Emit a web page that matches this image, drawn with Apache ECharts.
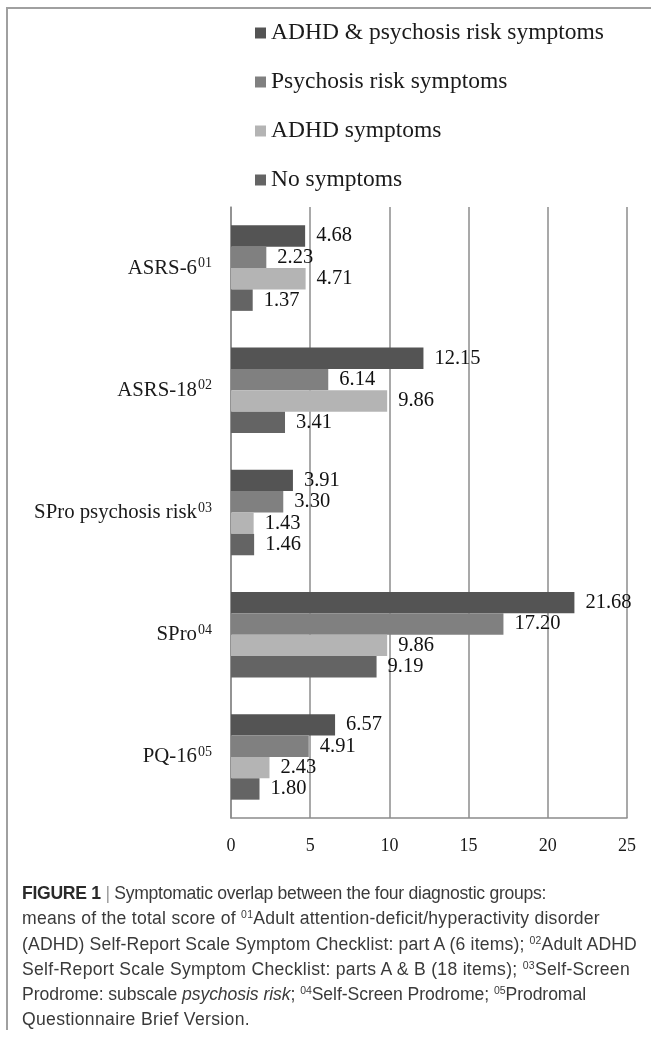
<!DOCTYPE html>
<html>
<head>
<meta charset="utf-8">
<script src="https://cdn.jsdelivr.net/npm/echarts@6/dist/echarts.min.js"></script>
<style>
  html, body { margin: 0; padding: 0; background: #fff; }
  #wrap { position: relative; width: 651px; height: 1039px; overflow: hidden; }
  #frame { position: absolute; left: 6px; top: 7px; width: 660px; height: 1023px;
           border-top: 2px solid #a0a0a0; border-left: 2px solid #a0a0a0; box-sizing: border-box; }
  #chart { position: absolute; left: 0; top: 0; width: 651px; height: 1039px; }
  #caption { position: absolute; left: 22px; top: 881px; font-family: "Liberation Sans", Arial, sans-serif;
             font-size: 17.6px; color: #3a3a3a; white-space: nowrap; }
  #caption .ln { height: 25.3px; line-height: 25.3px; }
  #caption .ln span.t { display: inline-block; }
  #caption sup { font-size: 10.5px; line-height: 0; vertical-align: 0; position: relative; top: -6px; }
  #caption .bar { color: #9a9a9a; font-weight: 300; }
</style>
</head>
<body>
<div id="wrap">
  <div id="frame"></div>
  <div id="chart"></div>
  <div id="caption">
    <div class="ln" data-end="546"><span class="t"><b style="color:#2a2a2a">FIGURE 1</b> <span class="bar">|</span> Symptomatic overlap between the four diagnostic groups:</span></div>
    <div class="ln" data-end="600"><span class="t">means of the total score of <sup>01</sup>Adult attention-deficit/hyperactivity disorder</span></div>
    <div class="ln" data-end="637"><span class="t">(ADHD) Self-Report Scale Symptom Checklist: part A (6 items); <sup>02</sup>Adult ADHD</span></div>
    <div class="ln" data-end="630"><span class="t">Self-Report Scale Symptom Checklist: parts A &amp; B (18 items); <sup>03</sup>Self-Screen</span></div>
    <div class="ln" data-end="586"><span class="t">Prodrome: subscale <i>psychosis risk</i>; <sup>04</sup>Self-Screen Prodrome; <sup>05</sup>Prodromal</span></div>
    <div class="ln" data-end="250"><span class="t">Questionnaire Brief Version.</span></div>
  </div>
</div>
<script>
// ---- data ----
const categories = ["ASRS-6", "ASRS-18", "SPro psychosis risk", "SPro", "PQ-16"];
const categorySup = ["01", "02", "03", "04", "05"];
const seriesNames = ["ADHD & psychosis risk symptoms", "Psychosis risk symptoms", "ADHD symptoms", "No symptoms"];
const adhdPsychosis = [4.68, 12.15, 3.91, 21.68, 6.57];
const psychosisRisk = [2.23, 6.14, 3.30, 17.20, 4.91];
const adhdOnly = [4.71, 9.86, 1.43, 9.86, 2.43];
const noSymptoms = [1.37, 3.41, 1.46, 9.19, 1.80];
const xTicks = [0, 5, 10, 15, 20, 25];

const seriesData = [adhdPsychosis, psychosisRisk, adhdOnly, noSymptoms];
const colors = ["#545454", "#808080", "#b4b4b4", "#646464"];
const serif = '"Liberation Serif", "Times New Roman", serif';

// fit caption lines to their measured widths in the reference layout
document.querySelectorAll('#caption .ln').forEach(ln => {
  const t = ln.querySelector('.t');
  const target = parseFloat(ln.dataset.end) - 22;
  const w = t.getBoundingClientRect().width;
  const n = t.textContent.length;
  t.style.letterSpacing = ((target - w) / n).toFixed(3) + 'px';
});

const chart = echarts.init(document.getElementById('chart'), null, { renderer: 'canvas' });
const option = {
  animation: false,
  backgroundColor: 'transparent',
  color: colors,
  legend: {
    orient: 'vertical',
    left: 250,
    top: 16,
    itemWidth: 11,
    itemHeight: 11,
    itemGap: 25,
    icon: 'rect',
    data: seriesNames,
    textStyle: { fontFamily: serif, fontSize: 23.5, color: '#1a1a1a' }
  },
  grid: { left: 231, right: 24, top: 207, bottom: 221, containLabel: false },
  xAxis: {
    type: 'value',
    min: xTicks[0],
    max: xTicks[xTicks.length - 1],
    interval: 5,
    axisLine: { show: true, lineStyle: { color: '#8c8c8c', width: 1.5 } },
    axisTick: { show: false },
    splitLine: { show: true, lineStyle: { color: '#8c8c8c', width: 1.5 } },
    axisLabel: { fontFamily: serif, fontSize: 18, color: '#1a1a1a', margin: 19 }
  },
  yAxis: {
    type: 'category',
    inverse: true,
    data: categories,
    axisLine: { show: true, lineStyle: { color: '#8c8c8c', width: 1.5 } },
    axisTick: { show: false },
    axisLabel: {
      margin: 19,
      formatter: (v, i) => '{m|' + v + '}{s|' + categorySup[i] + '}',
      rich: {
        m: { fontFamily: serif, fontSize: 20.8, color: '#1a1a1a' },
        s: { fontFamily: serif, fontSize: 14, color: '#1a1a1a', verticalAlign: 'top', padding: [0, 0, 9, 1] }
      }
    }
  },
  series: seriesNames.map((name, k) => ({
    name: name,
    type: 'bar',
    data: seriesData[k],
    barGap: '0%',
    barCategoryGap: '30%',
    itemStyle: { color: colors[k] },
    label: {
      show: true,
      position: 'right',
      distance: 11,
      fontFamily: serif,
      fontSize: 20.5,
      color: '#111',
      formatter: p => p.value.toFixed(2)
    }
  }))
};
chart.setOption(option);
</script>
</body>
</html>
